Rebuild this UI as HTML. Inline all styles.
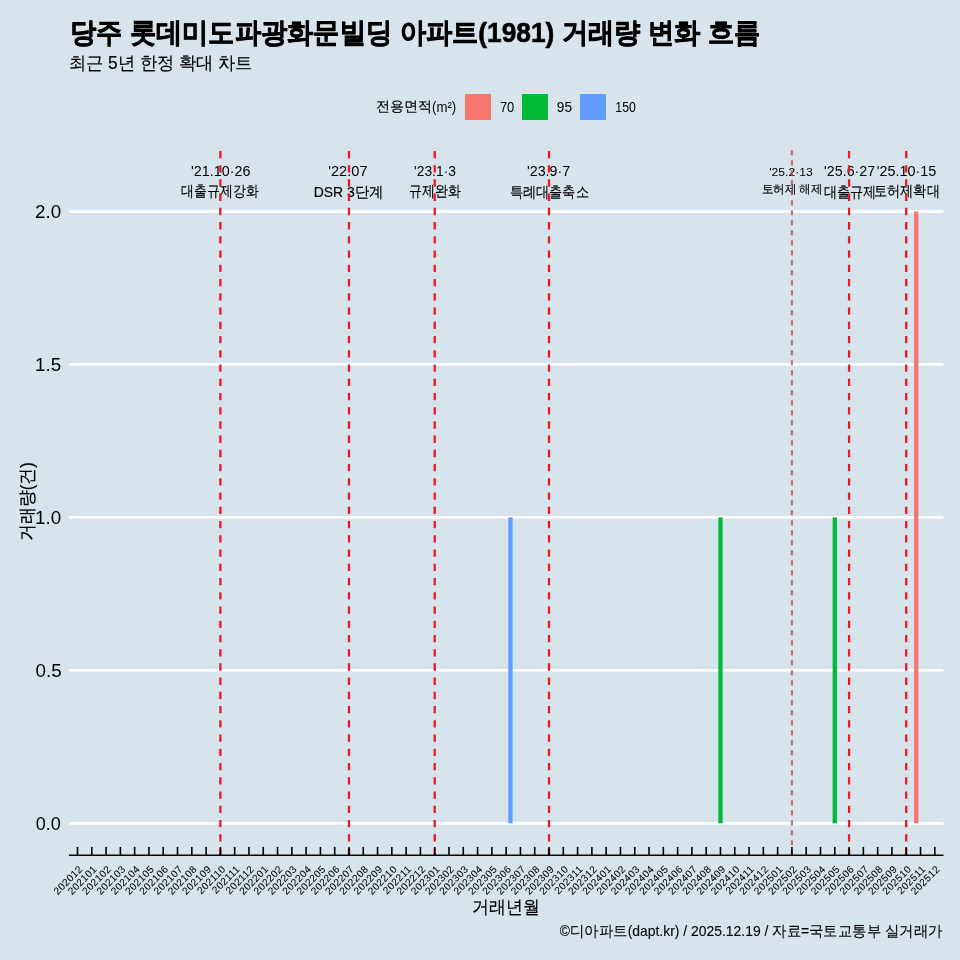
<!DOCTYPE html><html><head><meta charset="utf-8"><style>html,body{margin:0;padding:0;background:#d7e4ec;overflow:hidden}svg{display:block;will-change:transform;font-family:"Liberation Sans",sans-serif;}</style></head><body>
<svg width="960" height="960" viewBox="0 0 960 960">
<rect x="0" y="0" width="960" height="960" fill="#d7e4ec"/>
<rect x="465" y="94" width="26" height="26" fill="#F8766D"/>
<rect x="522" y="94" width="26" height="26" fill="#00BA38"/>
<rect x="580" y="94" width="26" height="26" fill="#619CFF"/>
<line x1="69" x2="943.5" y1="823.30" y2="823.30" stroke="#fff" stroke-width="2.8"/>
<line x1="69" x2="943.5" y1="670.35" y2="670.35" stroke="#fff" stroke-width="2.8"/>
<line x1="69" x2="943.5" y1="517.40" y2="517.40" stroke="#fff" stroke-width="2.8"/>
<line x1="69" x2="943.5" y1="364.45" y2="364.45" stroke="#fff" stroke-width="2.8"/>
<line x1="69" x2="943.5" y1="211.50" y2="211.50" stroke="#fff" stroke-width="2.8"/>
<rect x="508.30" y="517.40" width="4.3" height="305.90" fill="#619CFF"/>
<rect x="718.32" y="517.40" width="4.3" height="305.90" fill="#00BA38"/>
<rect x="832.63" y="517.40" width="4.3" height="305.90" fill="#00BA38"/>
<rect x="914.06" y="211.50" width="4.3" height="611.80" fill="#F8766D"/>
<text x="69.67" y="41.65" font-size="28" fill="#000" font-weight="bold" stroke="#000" stroke-width="0.6" textLength="690.46" lengthAdjust="spacingAndGlyphs">당주 롯데미도파광화문빌딩 아파트(1981) 거래량 변화 흐름</text>
<text x="68.62" y="69.00" font-size="18" fill="#000" stroke="#000" stroke-width="0.15" textLength="184.15" lengthAdjust="spacingAndGlyphs">최근 5년 한정 확대 차트</text>
<text x="376.20" y="110.85" font-size="14" fill="#000" stroke="#000" stroke-width="0.15" textLength="56.22" lengthAdjust="spacingAndGlyphs">전용면적</text>
<text x="432.00" y="111.85" font-size="14" fill="#000" textLength="24.17" lengthAdjust="spacingAndGlyphs">(m²)</text>
<text x="499.90" y="112.00" font-size="14" fill="#000" textLength="14.39" lengthAdjust="spacingAndGlyphs">70</text>
<text x="556.80" y="112.00" font-size="14" fill="#000" textLength="15.21" lengthAdjust="spacingAndGlyphs">95</text>
<text x="615.30" y="112.00" font-size="14" fill="#000" textLength="20.57" lengthAdjust="spacingAndGlyphs">150</text>
<text x="60.72" y="829.55" font-size="18" fill="#000" text-anchor="end" textLength="25.07" lengthAdjust="spacingAndGlyphs">0.0</text>
<text x="61.72" y="677.05" font-size="18" fill="#000" text-anchor="end" textLength="26.11" lengthAdjust="spacingAndGlyphs">0.5</text>
<text x="61.22" y="523.55" font-size="18" fill="#000" text-anchor="end" textLength="26.16" lengthAdjust="spacingAndGlyphs">1.0</text>
<text x="61.22" y="371.05" font-size="18" fill="#000" text-anchor="end" textLength="26.11" lengthAdjust="spacingAndGlyphs">1.5</text>
<text x="61.22" y="217.55" font-size="18" fill="#000" text-anchor="end" textLength="26.11" lengthAdjust="spacingAndGlyphs">2.0</text>
<text transform="translate(33.25,501.60) rotate(-90)" font-size="18" fill="#000" stroke="#000" stroke-width="0.15" text-anchor="middle" textLength="78.88" lengthAdjust="spacingAndGlyphs">거래량(건)</text>
<text x="506.00" y="912.90" font-size="18" fill="#000" stroke="#000" stroke-width="0.15" text-anchor="middle" textLength="67.83" lengthAdjust="spacingAndGlyphs">거래년월</text>
<text x="942.45" y="935.65" font-size="14.5" fill="#000" stroke="#000" stroke-width="0.1" text-anchor="end" textLength="382.59" lengthAdjust="spacingAndGlyphs">©디아파트(dapt.kr) / 2025.12.19 / 자료=국토교통부 실거래가</text>
<text x="220.76" y="176.10" font-size="14.5" fill="#000" text-anchor="middle" textLength="59.28" lengthAdjust="spacingAndGlyphs">'21.10·26</text>
<text x="219.88" y="196.25" font-size="14.5" fill="#000" stroke="#000" stroke-width="0.15" text-anchor="middle" textLength="77.39" lengthAdjust="spacingAndGlyphs">대출규제강화</text>
<text x="347.85" y="176.10" font-size="14.5" fill="#000" text-anchor="middle" textLength="39.34" lengthAdjust="spacingAndGlyphs">'22.07</text>
<text x="348.60" y="196.75" font-size="14.5" fill="#000" stroke="#000" stroke-width="0.15" text-anchor="middle" textLength="69.85" lengthAdjust="spacingAndGlyphs">DSR 3단계</text>
<text x="435.01" y="176.10" font-size="14.5" fill="#000" text-anchor="middle" textLength="41.92" lengthAdjust="spacingAndGlyphs">'23.1·3</text>
<text x="434.81" y="196.25" font-size="14.5" fill="#000" stroke="#000" stroke-width="0.15" text-anchor="middle" textLength="51.88" lengthAdjust="spacingAndGlyphs">규제완화</text>
<text x="548.57" y="176.10" font-size="14.5" fill="#000" text-anchor="middle" textLength="43.18" lengthAdjust="spacingAndGlyphs">'23.9·7</text>
<text x="549.26" y="196.75" font-size="14.5" fill="#000" stroke="#000" stroke-width="0.15" text-anchor="middle" textLength="79.16" lengthAdjust="spacingAndGlyphs">특례대출축소</text>
<text x="849.67" y="176.10" font-size="14.5" fill="#000" text-anchor="middle" textLength="51.16" lengthAdjust="spacingAndGlyphs">'25.6·27</text>
<text x="850.19" y="197.25" font-size="14.5" fill="#000" stroke="#000" stroke-width="0.15" text-anchor="middle" textLength="52.51" lengthAdjust="spacingAndGlyphs">대출규제</text>
<text x="906.47" y="176.10" font-size="14.5" fill="#000" text-anchor="middle" textLength="59.52" lengthAdjust="spacingAndGlyphs">'25.10·15</text>
<text x="906.87" y="196.25" font-size="14.5" fill="#000" stroke="#000" stroke-width="0.15" text-anchor="middle" textLength="65.88" lengthAdjust="spacingAndGlyphs">토허제확대</text>
<text x="791.04" y="176.20" font-size="11.5" fill="#000" text-anchor="middle" textLength="43.54" lengthAdjust="spacingAndGlyphs">'25.2·13</text>
<text x="792.07" y="193.00" font-size="12" fill="#000" stroke="#000" stroke-width="0.15" text-anchor="middle" textLength="60.78" lengthAdjust="spacingAndGlyphs">토허제 해제</text>
<line x1="220.38" x2="220.38" y1="150.9" y2="855" stroke="#ec1820" stroke-width="2.3" stroke-dasharray="7.3 6.935"/>
<line x1="348.98" x2="348.98" y1="150.9" y2="855" stroke="#ec1820" stroke-width="2.3" stroke-dasharray="7.3 6.935"/>
<line x1="434.71" x2="434.71" y1="150.9" y2="855" stroke="#ec1820" stroke-width="2.3" stroke-dasharray="7.3 6.935"/>
<line x1="549.01" x2="549.01" y1="150.9" y2="855" stroke="#ec1820" stroke-width="2.3" stroke-dasharray="7.3 6.935"/>
<line x1="791.92" x2="791.92" y1="150.3" y2="855" stroke="#c03848" stroke-opacity="0.7" stroke-width="2.2" stroke-dasharray="5 5"/>
<line x1="849.07" x2="849.07" y1="150.9" y2="855" stroke="#ec1820" stroke-width="2.3" stroke-dasharray="7.3 6.935"/>
<line x1="906.22" x2="906.22" y1="150.9" y2="855" stroke="#ec1820" stroke-width="2.3" stroke-dasharray="7.3 6.935"/>
<line x1="69" x2="943.5" y1="855.2" y2="855.2" stroke="#000" stroke-width="1.6"/>
<line x1="77.50" x2="77.50" y1="847" y2="855" stroke="#000" stroke-width="1.6"/>
<text transform="translate(83.30,869.8) rotate(-45)" font-size="10.2" letter-spacing="0.35" text-anchor="end" fill="#000" stroke="#000" stroke-width="0.05">202012</text>
<line x1="91.79" x2="91.79" y1="847" y2="855" stroke="#000" stroke-width="1.6"/>
<text transform="translate(97.59,869.8) rotate(-45)" font-size="10.2" letter-spacing="0.35" text-anchor="end" fill="#000" stroke="#000" stroke-width="0.05">202101</text>
<line x1="106.08" x2="106.08" y1="847" y2="855" stroke="#000" stroke-width="1.6"/>
<text transform="translate(111.88,869.8) rotate(-45)" font-size="10.2" letter-spacing="0.35" text-anchor="end" fill="#000" stroke="#000" stroke-width="0.05">202102</text>
<line x1="120.36" x2="120.36" y1="847" y2="855" stroke="#000" stroke-width="1.6"/>
<text transform="translate(126.16,869.8) rotate(-45)" font-size="10.2" letter-spacing="0.35" text-anchor="end" fill="#000" stroke="#000" stroke-width="0.05">202103</text>
<line x1="134.65" x2="134.65" y1="847" y2="855" stroke="#000" stroke-width="1.6"/>
<text transform="translate(140.45,869.8) rotate(-45)" font-size="10.2" letter-spacing="0.35" text-anchor="end" fill="#000" stroke="#000" stroke-width="0.05">202104</text>
<line x1="148.94" x2="148.94" y1="847" y2="855" stroke="#000" stroke-width="1.6"/>
<text transform="translate(154.74,869.8) rotate(-45)" font-size="10.2" letter-spacing="0.35" text-anchor="end" fill="#000" stroke="#000" stroke-width="0.05">202105</text>
<line x1="163.23" x2="163.23" y1="847" y2="855" stroke="#000" stroke-width="1.6"/>
<text transform="translate(169.03,869.8) rotate(-45)" font-size="10.2" letter-spacing="0.35" text-anchor="end" fill="#000" stroke="#000" stroke-width="0.05">202106</text>
<line x1="177.52" x2="177.52" y1="847" y2="855" stroke="#000" stroke-width="1.6"/>
<text transform="translate(183.32,869.8) rotate(-45)" font-size="10.2" letter-spacing="0.35" text-anchor="end" fill="#000" stroke="#000" stroke-width="0.05">202107</text>
<line x1="191.81" x2="191.81" y1="847" y2="855" stroke="#000" stroke-width="1.6"/>
<text transform="translate(197.61,869.8) rotate(-45)" font-size="10.2" letter-spacing="0.35" text-anchor="end" fill="#000" stroke="#000" stroke-width="0.05">202108</text>
<line x1="206.09" x2="206.09" y1="847" y2="855" stroke="#000" stroke-width="1.6"/>
<text transform="translate(211.90,869.8) rotate(-45)" font-size="10.2" letter-spacing="0.35" text-anchor="end" fill="#000" stroke="#000" stroke-width="0.05">202109</text>
<line x1="220.38" x2="220.38" y1="847" y2="855" stroke="#000" stroke-width="1.6"/>
<text transform="translate(226.18,869.8) rotate(-45)" font-size="10.2" letter-spacing="0.35" text-anchor="end" fill="#000" stroke="#000" stroke-width="0.05">202110</text>
<line x1="234.67" x2="234.67" y1="847" y2="855" stroke="#000" stroke-width="1.6"/>
<text transform="translate(240.47,869.8) rotate(-45)" font-size="10.2" letter-spacing="0.35" text-anchor="end" fill="#000" stroke="#000" stroke-width="0.05">202111</text>
<line x1="248.96" x2="248.96" y1="847" y2="855" stroke="#000" stroke-width="1.6"/>
<text transform="translate(254.76,869.8) rotate(-45)" font-size="10.2" letter-spacing="0.35" text-anchor="end" fill="#000" stroke="#000" stroke-width="0.05">202112</text>
<line x1="263.25" x2="263.25" y1="847" y2="855" stroke="#000" stroke-width="1.6"/>
<text transform="translate(269.05,869.8) rotate(-45)" font-size="10.2" letter-spacing="0.35" text-anchor="end" fill="#000" stroke="#000" stroke-width="0.05">202201</text>
<line x1="277.54" x2="277.54" y1="847" y2="855" stroke="#000" stroke-width="1.6"/>
<text transform="translate(283.34,869.8) rotate(-45)" font-size="10.2" letter-spacing="0.35" text-anchor="end" fill="#000" stroke="#000" stroke-width="0.05">202202</text>
<line x1="291.82" x2="291.82" y1="847" y2="855" stroke="#000" stroke-width="1.6"/>
<text transform="translate(297.62,869.8) rotate(-45)" font-size="10.2" letter-spacing="0.35" text-anchor="end" fill="#000" stroke="#000" stroke-width="0.05">202203</text>
<line x1="306.11" x2="306.11" y1="847" y2="855" stroke="#000" stroke-width="1.6"/>
<text transform="translate(311.91,869.8) rotate(-45)" font-size="10.2" letter-spacing="0.35" text-anchor="end" fill="#000" stroke="#000" stroke-width="0.05">202204</text>
<line x1="320.40" x2="320.40" y1="847" y2="855" stroke="#000" stroke-width="1.6"/>
<text transform="translate(326.20,869.8) rotate(-45)" font-size="10.2" letter-spacing="0.35" text-anchor="end" fill="#000" stroke="#000" stroke-width="0.05">202205</text>
<line x1="334.69" x2="334.69" y1="847" y2="855" stroke="#000" stroke-width="1.6"/>
<text transform="translate(340.49,869.8) rotate(-45)" font-size="10.2" letter-spacing="0.35" text-anchor="end" fill="#000" stroke="#000" stroke-width="0.05">202206</text>
<line x1="348.98" x2="348.98" y1="847" y2="855" stroke="#000" stroke-width="1.6"/>
<text transform="translate(354.78,869.8) rotate(-45)" font-size="10.2" letter-spacing="0.35" text-anchor="end" fill="#000" stroke="#000" stroke-width="0.05">202207</text>
<line x1="363.27" x2="363.27" y1="847" y2="855" stroke="#000" stroke-width="1.6"/>
<text transform="translate(369.07,869.8) rotate(-45)" font-size="10.2" letter-spacing="0.35" text-anchor="end" fill="#000" stroke="#000" stroke-width="0.05">202208</text>
<line x1="377.55" x2="377.55" y1="847" y2="855" stroke="#000" stroke-width="1.6"/>
<text transform="translate(383.35,869.8) rotate(-45)" font-size="10.2" letter-spacing="0.35" text-anchor="end" fill="#000" stroke="#000" stroke-width="0.05">202209</text>
<line x1="391.84" x2="391.84" y1="847" y2="855" stroke="#000" stroke-width="1.6"/>
<text transform="translate(397.64,869.8) rotate(-45)" font-size="10.2" letter-spacing="0.35" text-anchor="end" fill="#000" stroke="#000" stroke-width="0.05">202210</text>
<line x1="406.13" x2="406.13" y1="847" y2="855" stroke="#000" stroke-width="1.6"/>
<text transform="translate(411.93,869.8) rotate(-45)" font-size="10.2" letter-spacing="0.35" text-anchor="end" fill="#000" stroke="#000" stroke-width="0.05">202211</text>
<line x1="420.42" x2="420.42" y1="847" y2="855" stroke="#000" stroke-width="1.6"/>
<text transform="translate(426.22,869.8) rotate(-45)" font-size="10.2" letter-spacing="0.35" text-anchor="end" fill="#000" stroke="#000" stroke-width="0.05">202212</text>
<line x1="434.71" x2="434.71" y1="847" y2="855" stroke="#000" stroke-width="1.6"/>
<text transform="translate(440.51,869.8) rotate(-45)" font-size="10.2" letter-spacing="0.35" text-anchor="end" fill="#000" stroke="#000" stroke-width="0.05">202301</text>
<line x1="449.00" x2="449.00" y1="847" y2="855" stroke="#000" stroke-width="1.6"/>
<text transform="translate(454.80,869.8) rotate(-45)" font-size="10.2" letter-spacing="0.35" text-anchor="end" fill="#000" stroke="#000" stroke-width="0.05">202302</text>
<line x1="463.28" x2="463.28" y1="847" y2="855" stroke="#000" stroke-width="1.6"/>
<text transform="translate(469.08,869.8) rotate(-45)" font-size="10.2" letter-spacing="0.35" text-anchor="end" fill="#000" stroke="#000" stroke-width="0.05">202303</text>
<line x1="477.57" x2="477.57" y1="847" y2="855" stroke="#000" stroke-width="1.6"/>
<text transform="translate(483.37,869.8) rotate(-45)" font-size="10.2" letter-spacing="0.35" text-anchor="end" fill="#000" stroke="#000" stroke-width="0.05">202304</text>
<line x1="491.86" x2="491.86" y1="847" y2="855" stroke="#000" stroke-width="1.6"/>
<text transform="translate(497.66,869.8) rotate(-45)" font-size="10.2" letter-spacing="0.35" text-anchor="end" fill="#000" stroke="#000" stroke-width="0.05">202305</text>
<line x1="506.15" x2="506.15" y1="847" y2="855" stroke="#000" stroke-width="1.6"/>
<text transform="translate(511.95,869.8) rotate(-45)" font-size="10.2" letter-spacing="0.35" text-anchor="end" fill="#000" stroke="#000" stroke-width="0.05">202306</text>
<line x1="520.44" x2="520.44" y1="847" y2="855" stroke="#000" stroke-width="1.6"/>
<text transform="translate(526.24,869.8) rotate(-45)" font-size="10.2" letter-spacing="0.35" text-anchor="end" fill="#000" stroke="#000" stroke-width="0.05">202307</text>
<line x1="534.73" x2="534.73" y1="847" y2="855" stroke="#000" stroke-width="1.6"/>
<text transform="translate(540.53,869.8) rotate(-45)" font-size="10.2" letter-spacing="0.35" text-anchor="end" fill="#000" stroke="#000" stroke-width="0.05">202308</text>
<line x1="549.01" x2="549.01" y1="847" y2="855" stroke="#000" stroke-width="1.6"/>
<text transform="translate(554.81,869.8) rotate(-45)" font-size="10.2" letter-spacing="0.35" text-anchor="end" fill="#000" stroke="#000" stroke-width="0.05">202309</text>
<line x1="563.30" x2="563.30" y1="847" y2="855" stroke="#000" stroke-width="1.6"/>
<text transform="translate(569.10,869.8) rotate(-45)" font-size="10.2" letter-spacing="0.35" text-anchor="end" fill="#000" stroke="#000" stroke-width="0.05">202310</text>
<line x1="577.59" x2="577.59" y1="847" y2="855" stroke="#000" stroke-width="1.6"/>
<text transform="translate(583.39,869.8) rotate(-45)" font-size="10.2" letter-spacing="0.35" text-anchor="end" fill="#000" stroke="#000" stroke-width="0.05">202311</text>
<line x1="591.88" x2="591.88" y1="847" y2="855" stroke="#000" stroke-width="1.6"/>
<text transform="translate(597.68,869.8) rotate(-45)" font-size="10.2" letter-spacing="0.35" text-anchor="end" fill="#000" stroke="#000" stroke-width="0.05">202312</text>
<line x1="606.17" x2="606.17" y1="847" y2="855" stroke="#000" stroke-width="1.6"/>
<text transform="translate(611.97,869.8) rotate(-45)" font-size="10.2" letter-spacing="0.35" text-anchor="end" fill="#000" stroke="#000" stroke-width="0.05">202401</text>
<line x1="620.46" x2="620.46" y1="847" y2="855" stroke="#000" stroke-width="1.6"/>
<text transform="translate(626.26,869.8) rotate(-45)" font-size="10.2" letter-spacing="0.35" text-anchor="end" fill="#000" stroke="#000" stroke-width="0.05">202402</text>
<line x1="634.75" x2="634.75" y1="847" y2="855" stroke="#000" stroke-width="1.6"/>
<text transform="translate(640.54,869.8) rotate(-45)" font-size="10.2" letter-spacing="0.35" text-anchor="end" fill="#000" stroke="#000" stroke-width="0.05">202403</text>
<line x1="649.03" x2="649.03" y1="847" y2="855" stroke="#000" stroke-width="1.6"/>
<text transform="translate(654.83,869.8) rotate(-45)" font-size="10.2" letter-spacing="0.35" text-anchor="end" fill="#000" stroke="#000" stroke-width="0.05">202404</text>
<line x1="663.32" x2="663.32" y1="847" y2="855" stroke="#000" stroke-width="1.6"/>
<text transform="translate(669.12,869.8) rotate(-45)" font-size="10.2" letter-spacing="0.35" text-anchor="end" fill="#000" stroke="#000" stroke-width="0.05">202405</text>
<line x1="677.61" x2="677.61" y1="847" y2="855" stroke="#000" stroke-width="1.6"/>
<text transform="translate(683.41,869.8) rotate(-45)" font-size="10.2" letter-spacing="0.35" text-anchor="end" fill="#000" stroke="#000" stroke-width="0.05">202406</text>
<line x1="691.90" x2="691.90" y1="847" y2="855" stroke="#000" stroke-width="1.6"/>
<text transform="translate(697.70,869.8) rotate(-45)" font-size="10.2" letter-spacing="0.35" text-anchor="end" fill="#000" stroke="#000" stroke-width="0.05">202407</text>
<line x1="706.19" x2="706.19" y1="847" y2="855" stroke="#000" stroke-width="1.6"/>
<text transform="translate(711.99,869.8) rotate(-45)" font-size="10.2" letter-spacing="0.35" text-anchor="end" fill="#000" stroke="#000" stroke-width="0.05">202408</text>
<line x1="720.47" x2="720.47" y1="847" y2="855" stroke="#000" stroke-width="1.6"/>
<text transform="translate(726.27,869.8) rotate(-45)" font-size="10.2" letter-spacing="0.35" text-anchor="end" fill="#000" stroke="#000" stroke-width="0.05">202409</text>
<line x1="734.76" x2="734.76" y1="847" y2="855" stroke="#000" stroke-width="1.6"/>
<text transform="translate(740.56,869.8) rotate(-45)" font-size="10.2" letter-spacing="0.35" text-anchor="end" fill="#000" stroke="#000" stroke-width="0.05">202410</text>
<line x1="749.05" x2="749.05" y1="847" y2="855" stroke="#000" stroke-width="1.6"/>
<text transform="translate(754.85,869.8) rotate(-45)" font-size="10.2" letter-spacing="0.35" text-anchor="end" fill="#000" stroke="#000" stroke-width="0.05">202411</text>
<line x1="763.34" x2="763.34" y1="847" y2="855" stroke="#000" stroke-width="1.6"/>
<text transform="translate(769.14,869.8) rotate(-45)" font-size="10.2" letter-spacing="0.35" text-anchor="end" fill="#000" stroke="#000" stroke-width="0.05">202412</text>
<line x1="777.63" x2="777.63" y1="847" y2="855" stroke="#000" stroke-width="1.6"/>
<text transform="translate(783.43,869.8) rotate(-45)" font-size="10.2" letter-spacing="0.35" text-anchor="end" fill="#000" stroke="#000" stroke-width="0.05">202501</text>
<line x1="791.92" x2="791.92" y1="847" y2="855" stroke="#000" stroke-width="1.6"/>
<text transform="translate(797.72,869.8) rotate(-45)" font-size="10.2" letter-spacing="0.35" text-anchor="end" fill="#000" stroke="#000" stroke-width="0.05">202502</text>
<line x1="806.20" x2="806.20" y1="847" y2="855" stroke="#000" stroke-width="1.6"/>
<text transform="translate(812.00,869.8) rotate(-45)" font-size="10.2" letter-spacing="0.35" text-anchor="end" fill="#000" stroke="#000" stroke-width="0.05">202503</text>
<line x1="820.49" x2="820.49" y1="847" y2="855" stroke="#000" stroke-width="1.6"/>
<text transform="translate(826.29,869.8) rotate(-45)" font-size="10.2" letter-spacing="0.35" text-anchor="end" fill="#000" stroke="#000" stroke-width="0.05">202504</text>
<line x1="834.78" x2="834.78" y1="847" y2="855" stroke="#000" stroke-width="1.6"/>
<text transform="translate(840.58,869.8) rotate(-45)" font-size="10.2" letter-spacing="0.35" text-anchor="end" fill="#000" stroke="#000" stroke-width="0.05">202505</text>
<line x1="849.07" x2="849.07" y1="847" y2="855" stroke="#000" stroke-width="1.6"/>
<text transform="translate(854.87,869.8) rotate(-45)" font-size="10.2" letter-spacing="0.35" text-anchor="end" fill="#000" stroke="#000" stroke-width="0.05">202506</text>
<line x1="863.36" x2="863.36" y1="847" y2="855" stroke="#000" stroke-width="1.6"/>
<text transform="translate(869.16,869.8) rotate(-45)" font-size="10.2" letter-spacing="0.35" text-anchor="end" fill="#000" stroke="#000" stroke-width="0.05">202507</text>
<line x1="877.65" x2="877.65" y1="847" y2="855" stroke="#000" stroke-width="1.6"/>
<text transform="translate(883.45,869.8) rotate(-45)" font-size="10.2" letter-spacing="0.35" text-anchor="end" fill="#000" stroke="#000" stroke-width="0.05">202508</text>
<line x1="891.93" x2="891.93" y1="847" y2="855" stroke="#000" stroke-width="1.6"/>
<text transform="translate(897.73,869.8) rotate(-45)" font-size="10.2" letter-spacing="0.35" text-anchor="end" fill="#000" stroke="#000" stroke-width="0.05">202509</text>
<line x1="906.22" x2="906.22" y1="847" y2="855" stroke="#000" stroke-width="1.6"/>
<text transform="translate(912.02,869.8) rotate(-45)" font-size="10.2" letter-spacing="0.35" text-anchor="end" fill="#000" stroke="#000" stroke-width="0.05">202510</text>
<line x1="920.51" x2="920.51" y1="847" y2="855" stroke="#000" stroke-width="1.6"/>
<text transform="translate(926.31,869.8) rotate(-45)" font-size="10.2" letter-spacing="0.35" text-anchor="end" fill="#000" stroke="#000" stroke-width="0.05">202511</text>
<line x1="934.80" x2="934.80" y1="847" y2="855" stroke="#000" stroke-width="1.6"/>
<text transform="translate(940.60,869.8) rotate(-45)" font-size="10.2" letter-spacing="0.35" text-anchor="end" fill="#000" stroke="#000" stroke-width="0.05">202512</text>
</svg></body></html>
